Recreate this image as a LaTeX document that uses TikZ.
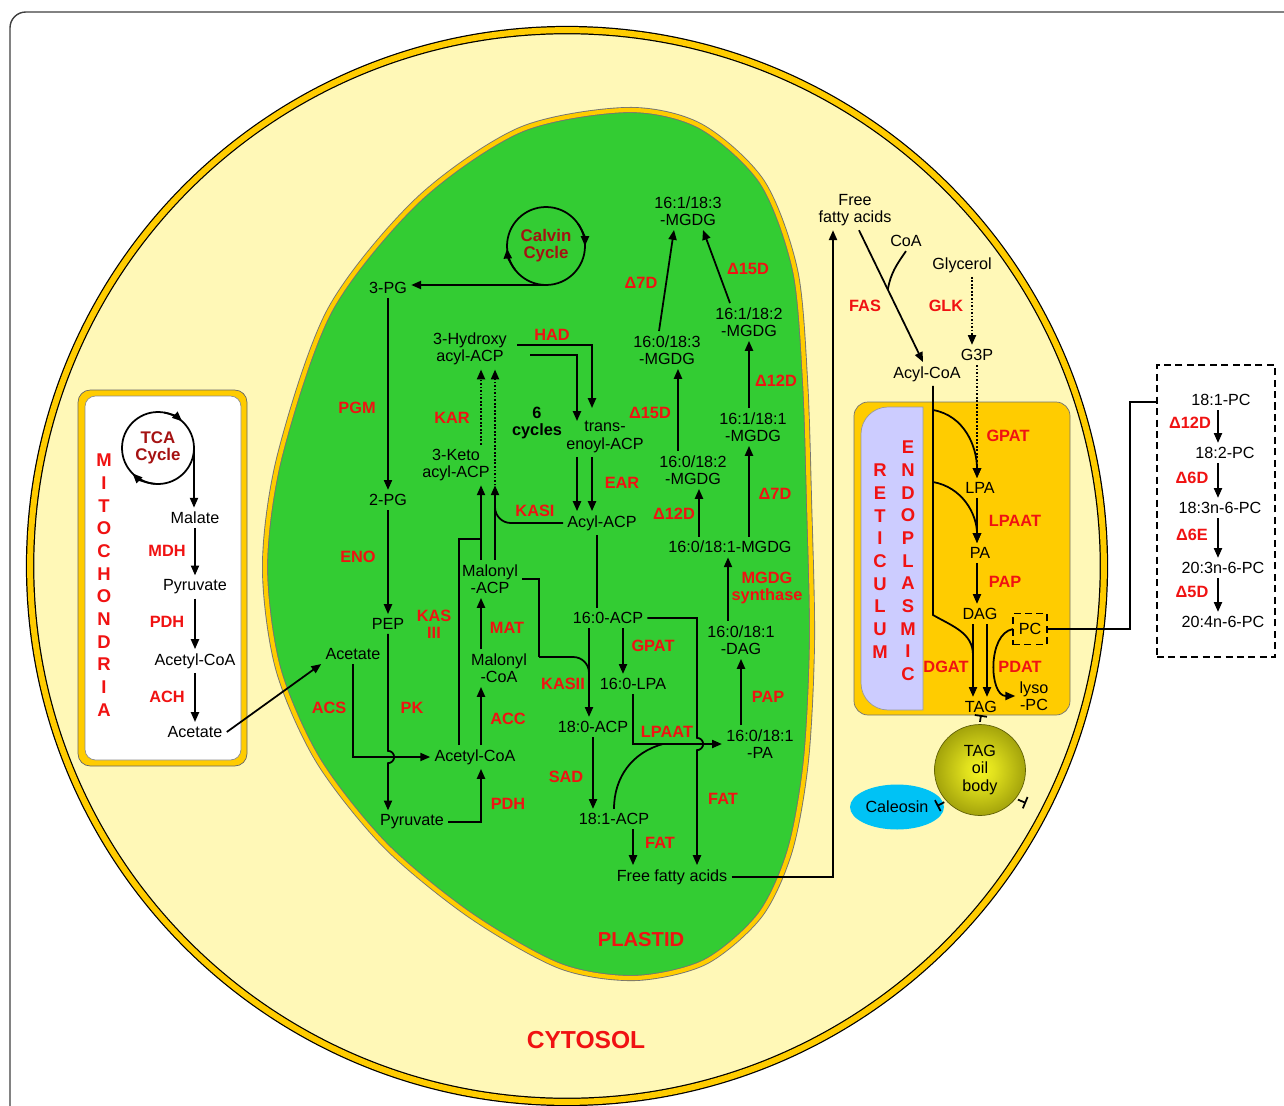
\documentclass[tikz,border=0pt]{standalone}
\usepackage{fontspec}
\setmainfont{Liberation Sans}
\usetikzlibrary{arrows.meta,shapes.geometric}

\definecolor{cytocol}{RGB}{255,248,183}
\definecolor{membcol}{RGB}{255,204,0}
\definecolor{plastcol}{RGB}{51,204,51}
\definecolor{lumencol}{RGB}{204,204,255}
\definecolor{enzcol}{RGB}{240,18,18}
\definecolor{cyclecol}{RGB}{165,18,18}
\definecolor{caleocol}{RGB}{0,194,245}
\definecolor{oilin}{RGB}{245,245,35}
\definecolor{oilout}{RGB}{160,160,10}

\pgfdeclareradialshading{oilshade}{\pgfpoint{0bp}{0bp}}{%
  color(0bp)=(oilin); color(8bp)=(oilin!75!oilout);
  color(26bp)=(oilout); color(50bp)=(oilout!75!black)}

\tikzset{
  met/.style={inner sep=1pt, outer sep=1.5pt, align=center,
    font=\fontsize{9.2}{9.8}\selectfont},
  enz/.style={inner sep=1pt, align=center, text=enzcol,
    font=\fontsize{9.3}{9.8}\selectfont\bfseries},
  cyc/.style={circle, draw, line width=1pt, outer sep=0pt, inner sep=0pt,
    align=center, text=cyclecol, font=\fontsize{9.6}{9.8}\selectfont\bfseries},
  vlabel/.style={inner sep=0pt, align=center, text=enzcol,
    font=\fontsize{10.5}{12.9}\selectfont\bfseries},
  flow/.style={line width=1pt, -{Triangle[length=5.6pt,width=4.6pt]}},
  link/.style={line width=1pt},
  block/.style={line width=1pt, -{Bar[width=7pt]}},
  boxdash/.style={line width=1pt, dash pattern=on 4pt off 2.5pt},
}

\begin{document}
\begin{tikzpicture}[x=0.02cm, y=-0.02cm]
  \useasboundingbox (0,0) rectangle (1284,1105);
  \fill[white] (0,0) rectangle (1284,1105);
  \draw[black!75, line width=0.8pt, rounded corners=9pt] (10,12) rectangle (1330,1150);

  % cell, mitochondrion, plastid, ER
  \draw[fill=cytocol, draw=black, double=membcol, double distance=3.4pt, line width=0.7pt]
    (567,566) ellipse [x radius=10.74cm, y radius=10.72cm];

  \draw[fill=membcol, draw=black!60, rounded corners=7pt] (78,390) rectangle (247,766);
  \draw[fill=white, draw=black!45, rounded corners=6pt] (85,396) rectangle (241,760);

  \draw[fill=plastcol, draw=black!55, double=membcol, double distance=2.4pt, line width=0.5pt]
    plot[smooth cycle] coordinates {(627,110) (700,126) (762,182) (795,270) (805,380)
      (809,500) (812,640) (806,760) (790,850) (760,915) (705,962) (635,978) (560,966)
      (470,915) (385,845) (318,760) (278,668) (265,565) (280,455) (330,310) (418,200)
      (520,130)};

  \draw[fill=membcol, draw=black!55, rounded corners=8pt] (854,402) rectangle (1070,715);
  \draw[fill=lumencol, draw=black!40] (923,407) -- (888,407)
    arc[start angle=90, end angle=180, radius=0.54cm] -- (861,683)
    arc[start angle=180, end angle=270, radius=0.54cm] -- (923,710) -- cycle;

  % mitochondrion
  \node[cyc, minimum size=1.44cm] (tca) at (158,448) {TCA\\Cycle};
  \node[met] (mmal) at (195,518) {Malate};
  \node[met] (mpyr) at (195,587) {Pyruvate};
  \node[met] (macoa) at (195,661) {Acetyl-CoA};
  \node[met] (mace) at (195,732) {Acetate};
  \node[enz] (mdh) at (167,551) {MDH};
  \node[enz] (mpdh) at (167,622) {PDH};
  \node[enz] (ach) at (167,697) {ACH};
  \node[vlabel] (mito) at (104,585) {M\\I\\T\\O\\C\\H\\O\\N\\D\\R\\I\\A};

  \draw[flow] (tca.80) arc[start angle=80, end angle=48, radius=0.72cm];
  \draw[flow] (tca.265) arc[start angle=265, end angle=225, radius=0.72cm];
  \draw[flow] (tca.east) -- (tca.east |- mmal.north);
  \draw[flow] (mmal) -- (mpyr);
  \draw[flow] (mpyr) -- (macoa);
  \draw[flow] (macoa) -- (mace);

  % plastid
  \node[cyc, minimum size=1.56cm] (calvin) at (546,246) {Calvin\\Cycle};
  \node[met] (pg3) at (388,288) {3-PG};
  \node[met] (pg2) at (388,500) {2-PG};
  \node[met] (pep) at (388,624) {PEP};
  \node[met] (pace) at (353,654) {Acetate};
  \node[met] (ppyr) at (412,822) {Pyruvate};
  \node[met] (pacoa) at (475,757) {Acetyl-CoA};
  \node[met] (mcoa) at (499,668) {Malonyl\\-CoA};
  \node[met] (macp) at (490,579) {Malonyl\\-ACP};
  \node[met] (keto) at (456,465) {3-Keto\\acyl-ACP};
  \node[met] (hydr) at (470,349) {3-Hydroxy\\acyl-ACP};
  \node[met] (enoyl) at (605,437) {trans-\\enoyl-ACP};
  \node[met, font=\fontsize{9.3}{9.8}\selectfont\bfseries] (cyc6) at (537,423) {6\\cycles};
  \node[met] (acyl) at (602,523) {Acyl-ACP};
  \node[met] (acp160) at (608,618) {16:0-ACP};
  \node[met] (lpa160) at (633,684) {16:0-LPA};
  \node[met] (acp180) at (593,727) {18:0-ACP};
  \node[met] (acp181) at (614,819) {18:1-ACP};
  \node[met] (pffa) at (672,877) {Free fatty acids};
  \node[met] (pa) at (760,744) {16:0/18:1\\-PA};
  \node[met] (dag) at (741,640) {16:0/18:1\\-DAG};
  \node[met] (mgdg1) at (730,547) {16:0/18:1-MGDG};
  \node[met] (mgdg2) at (693,470) {16:0/18:2\\-MGDG};
  \node[met] (mgdg3) at (667,350) {16:0/18:3\\-MGDG};
  \node[met] (mgdg4) at (688,211) {16:1/18:3\\-MGDG};
  \node[met] (mgdg5) at (753,427) {16:1/18:1\\-MGDG};
  \node[met] (mgdg6) at (749,322) {16:1/18:2\\-MGDG};

  \node[enz] (pgm) at (357,408) {PGM};
  \node[enz] (eno) at (358,557) {ENO};
  \node[enz] (kas3) at (434,624) {KAS\\III};
  \node[enz] (acs) at (329,708) {ACS};
  \node[enz] (pk) at (412,708) {PK};
  \node[enz] (ppdh) at (508,804) {PDH};
  \node[enz] (acc) at (508,719) {ACC};
  \node[enz] (mat) at (507,628) {MAT};
  \node[enz] (kar) at (452,418) {KAR};
  \node[enz] (had) at (552,335) {HAD};
  \node[enz] (ear) at (622,483) {EAR};
  \node[enz] (kas1) at (535,511) {KASI};
  \node[enz] (kas2) at (563,684) {KASII};
  \node[enz] (pgpat) at (653,646) {GPAT};
  \node[enz] (plpaat) at (667,732) {LPAAT};
  \node[enz] (sad) at (566,777) {SAD};
  \node[enz] (fat1) at (660,843) {FAT};
  \node[enz] (fat2) at (723,799) {FAT};
  \node[enz] (ppap) at (768,697) {PAP};
  \node[enz] (mgdgs) at (767,588) {MGDG\\synthase};
  \node[enz] (d12a) at (674,514) {Δ12D};
  \node[enz] (d7a) at (775,494) {Δ7D};
  \node[enz] (d15a) at (650,413) {Δ15D};
  \node[enz] (d12b) at (776,381) {Δ12D};
  \node[enz] (d7b) at (641,283) {Δ7D};
  \node[enz] (d15b) at (748,269) {Δ15D};
  \node[enz, font=\fontsize{11.5}{12}\selectfont\bfseries] (plastid) at (641,940) {PLASTID};

  % bends and columns
  \coordinate (acol) at (481,539);
  \coordinate (kcol) at (495,505);
  \coordinate (kas3x) at (459,539);
  \coordinate (had1) at (517,345);
  \coordinate (had2) at (530,355);
  \coordinate (ena) at (592,408);
  \coordinate (enb) at (577,421);
  \coordinate (c16) at (597,0);
  \coordinate (k2a) at (539,657);
  \coordinate (k2join) at (589,683);
  \coordinate (gcol) at (623,0);
  \coordinate (ljoin) at (663,744);
  \coordinate (fx) at (697,0);
  \coordinate (ffax) at (833,0);
  \coordinate (synx) at (728,0);
  \coordinate (d12x) at (699,0);
  \coordinate (d15x) at (678,0);

  \draw[flow] (calvin.35) arc[start angle=35, end angle=0, radius=0.78cm];
  \draw[flow] (calvin.218) arc[start angle=218, end angle=184, radius=0.78cm];
  \draw[flow] (calvin.south) -- (calvin.south -| pg3.east);
  \draw[flow] (pg3) -- (pg2);
  \draw[flow] (pg2) -- (pep);
  \draw[flow] (pep.south) -- ([yshift=3.5pt]pep |- pacoa)
    arc[start angle=90, end angle=-90, radius=3.5pt] -- (pep |- ppyr.north);
  \draw[flow] (mace.east) -- (pace.south west);
  \draw[flow] (pace.south) |- (pacoa.west);
  \draw[flow] (ppyr.east) -| (pacoa.south -| acol);
  \draw[flow] (pacoa.north -| acol) -- (mcoa.south -| acol);
  \draw[flow] (mcoa.north -| acol) -- (macp.south -| acol);
  \draw[flow] (macp.north -| acol) -- (keto.south -| acol);
  \draw[flow] (macp.north -| kcol) -- (keto.south -| kcol);
  \draw[link] (pacoa.north -| kas3x) |- (acol);
  \draw[link, rounded corners=9pt] (acyl.west) -| (kcol);
  \draw[flow, densely dotted] (keto.north -| acol) -- (hydr.south -| acol);
  \draw[flow, densely dotted] (keto.south -| kcol) -- (hydr.south -| kcol);
  \draw[flow] (had1) -| (ena);
  \draw[flow] (had2) -| (enb);
  \draw[flow] (enoyl.south -| enb) -- (acyl.north -| enb);
  \draw[flow] (enoyl.south -| ena) -- (acyl.north -| ena);
  \draw[link] (acyl.south -| c16) -- (acp160.north -| c16);
  \draw[link] (macp.east) -| (k2a);
  \draw[link, rounded corners=9pt] (k2a) -| (k2join);
  \draw[flow] (acp160.south -| k2join) -- (acp180.north -| k2join);
  \draw[flow] (acp160.south -| gcol) -- (lpa160.north -| gcol);
  \draw[flow] (lpa160.south) |- (pa.west);
  \draw[link] (acp181.north) to[out=90, in=195] (ljoin);
  \draw[flow] (acp160.east) -| ([yshift=3.5pt]fx |- pa)
    arc[start angle=90, end angle=-90, radius=3.5pt] -- (fx |- pffa.north);
  \draw[flow] (acp180.south) -- (acp180.south |- acp181.north);
  \draw[flow] (acp181.south -| lpa160) -- (pffa.north -| lpa160);
  \draw[flow] (pa.north -| dag) -- (dag.south);
  \draw[flow] (dag.north -| synx) -- (mgdg1.south -| synx);
  \draw[flow] (mgdg1.north -| d12x) -- (mgdg2.south -| d12x);
  \draw[flow] (mgdg2.north -| d15x) -- (mgdg3.south -| d15x);
  \draw[flow] ([xshift=-0.16cm]mgdg3.north) -- ([xshift=-0.28cm]mgdg4.south);
  \draw[flow] (mgdg1.north -| mgdg6) -- (mgdg5.south -| mgdg6);
  \draw[flow] (mgdg5.north -| mgdg6) -- (mgdg6.south);
  \draw[flow] ([xshift=-0.38cm]mgdg6.north) -- ([xshift=0.3cm]mgdg4.south);

  % cytosol
  \node[met] (cffa) at (855,210) {Free\\fatty acids};
  \node[met] (coa) at (906,241) {CoA};
  \node[met] (glyc) at (962,265) {Glycerol};
  \node[met] (g3p) at (977,355) {G3P};
  \node[met] (acoa) at (927,374) {Acyl-CoA};
  \node[enz] (fas) at (865,306) {FAS};
  \node[enz] (glk) at (946,306) {GLK};
  \node[enz, font=\fontsize{14}{15}\selectfont\bfseries] (cytosol) at (586,1040) {CYTOSOL};

  \draw[flow] (pffa.east) -| (cffa.south -| ffax);
  \draw[flow] ([xshift=0.08cm]cffa.south) -- coordinate[pos=0.45] (coajoin) ([xshift=-0.08cm]acoa.north);
  \draw[link] (coa.south) to[out=235, in=80] (coajoin);
  \draw[flow, densely dotted] ([xshift=0.2cm]glyc.south) -- ([xshift=0.2cm]glyc.south |- g3p.north);

  % endoplasmic reticulum
  \node[met] (lpa) at (980,488) {LPA};
  \node[met] (era) at (980,553) {PA};
  \node[met] (erdag) at (980,614) {DAG};
  \node[met] (tag) at (981,707) {TAG};
  \node[met, draw, boxdash, outer sep=0pt, minimum width=0.68cm,
    minimum height=0.62cm] (pc) at (1030,629) {PC};
  \node[met] (lyso) at (1034,696) {lyso\\-PC};
  \node[enz] (egpat) at (1008,436) {GPAT};
  \node[enz] (elpaat) at (1015,521) {LPAAT};
  \node[enz] (epap) at (1005,582) {PAP};
  \node[enz] (dgat) at (946,667) {DGAT};
  \node[enz] (pdat) at (1020,667) {PDAT};
  \node[vlabel] (endo) at (908,561) {E\\N\\D\\O\\P\\L\\A\\S\\M\\I\\C};
  \node[vlabel] (reti) at (880,561) {R\\E\\T\\I\\C\\U\\L\\U\\M};

  \coordinate (gb1) at (933,410);
  \coordinate (gb2) at (933,482);
  \coordinate (gb3) at (933,615);
  \coordinate (dgjoin) at (973,655);
  \coordinate (pdx) at (987,0);

  \draw[flow, densely dotted] (g3p.south) -- (g3p.south |- lpa.north);
  \draw[link] (acoa.south -| gb1) -- (gb3) to[out=-30, in=90] (dgjoin);
  \draw[flow] (gb1) to[out=-10, in=90] (lpa.north -| g3p);
  \draw[flow] (gb2) to[out=-10, in=90] (era.north -| g3p);
  \draw[flow] (lpa.south -| g3p) -- (era.north -| g3p);
  \draw[flow] (era.south -| g3p) -- (erdag.north -| g3p);
  \draw[flow] (erdag.south -| dgjoin) -- (tag.north -| dgjoin);
  \draw[flow] (erdag.south -| pdx) -- (tag.north -| pdx);
  \draw[flow] (pc.west) to[out=190, in=180] (lyso.west);

  % desaturation on PC
  \node[draw, boxdash, minimum width=2.36cm, minimum height=5.84cm] (pcbox) at (1216,511) {};
  \node[met] (pc181) at (1221,400) {18:1-PC};
  \node[met] (pc182) at (1225,453) {18:2-PC};
  \node[met] (pc183) at (1220,508) {18:3n-6-PC};
  \node[met] (pc203) at (1223,568) {20:3n-6-PC};
  \node[met] (pc204) at (1223,622) {20:4n-6-PC};
  \node[enz] (d12c) at (1190,423) {Δ12D};
  \node[enz] (d6d) at (1192,478) {Δ6D};
  \node[enz] (d6e) at (1192,535) {Δ6E};
  \node[enz] (d5d) at (1192,592) {Δ5D};

  \coordinate (pcrise) at (1130,402);
  \coordinate (desx) at (1218,0);
  \draw[link] (pc.east) -| (pcrise) -- (pcrise -| pcbox.west);
  \draw[flow] (pc181.south -| desx) -- (pc182.north -| desx);
  \draw[flow] (pc182.south -| desx) -- (pc183.north -| desx);
  \draw[flow] (pc183.south -| desx) -- (pc203.north -| desx);
  \draw[flow] (pc203.south -| desx) -- (pc204.north -| desx);

  % oil body
  \node[met, ellipse, fill=caleocol, minimum width=1.88cm, minimum height=0.9cm] (caleo) at (897,807) {Caleosin};
  \node[met, circle, inner sep=0pt, minimum size=1.82cm, draw=oilout!60!black,
    shading=oilshade] (oil) at (980,770) {TAG\\oil\\body};

  \coordinate (calstop) at (937,806);
  \coordinate (oilstop) at (1026,803);
  \draw[block] (oil.north) -- ([yshift=-0.16cm]tag.center);
  \draw[block] (oil.222) -- (calstop);
  \draw[block] (oil.-38) -- (oilstop);
\end{tikzpicture}
\end{document}
